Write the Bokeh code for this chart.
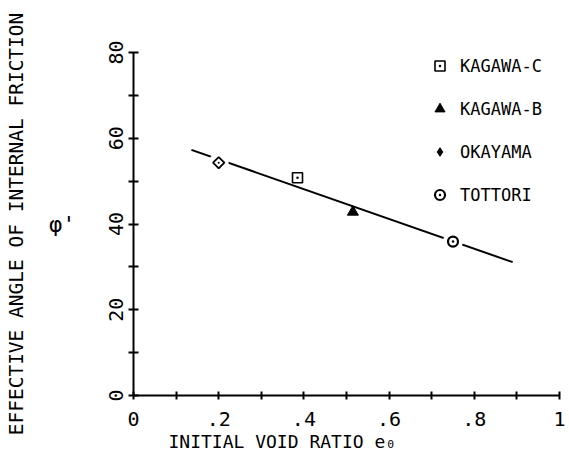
import math
from bokeh.plotting import figure
from bokeh.models import (FixedTicker, Legend, LegendItem, Title, Range1d, LinearAxis)
from bokeh.embed import file_html
from bokeh.resources import INLINE

# ---------------- data ----------------
kagawa_c_x = [0.385]
kagawa_c_y = [50.8]
kagawa_b_x = [0.515]
kagawa_b_y = [42.8]
okayama_x = [0.200]
okayama_y = [54.3]
tottori_x = [0.750]
tottori_y = [35.9]

fit_x = [0.136, 0.890]
fit_y = [57.3, 31.1]

series_names = ["KAGAWA-C", "KAGAWA-B", "OKAYAMA", "TOTTORI"]

x_ticks = [0, 0.1, 0.2, 0.3, 0.4, 0.5, 0.6, 0.7, 0.8, 0.9, 1.0]
x_tick_labels = ["0", "", ".2", "", ".4", "", ".6", "", ".8", "", "1"]
y_ticks = [0, 10, 20, 30, 40, 50, 60, 70, 80]
y_tick_labels = ["0", "", "20", "", "40", "", "60", "", "80"]

x_title = "INITIAL VOID RATIO e\u2080"
y_title = "EFFECTIVE ANGLE OF INTERNAL FRICTION"
y_symbol = "\u03c6'"

FONT = "DejaVu Sans Mono"

# ---------------- figure ----------------
p = figure(width=569, height=464, output_backend="svg", toolbar_location=None,
           x_range=Range1d(0, 1), y_range=Range1d(0, 80),
           min_border_left=133, min_border_right=10,
           min_border_top=52, min_border_bottom=69)
p.outline_line_color = None
p.xgrid.visible = False
p.ygrid.visible = False
p.background_fill_color = "white"
p.border_fill_color = "white"

# x axis
xa = p.xaxis[0]
xa.ticker = FixedTicker(ticks=x_ticks)
xa.major_label_overrides = dict(zip(x_ticks, x_tick_labels))
xa.minor_tick_line_color = None
xa.major_tick_in = 4
xa.major_tick_out = 4
xa.axis_line_width = 2
xa.major_tick_line_width = 2
xa.major_label_standoff = 12
xa.major_label_text_font = FONT
xa.major_label_text_font_size = "20px"
xa.major_label_text_color = "black"

# y axis (ticks and tick labels)
ya = p.yaxis[0]
ya.ticker = FixedTicker(ticks=y_ticks)
ya.major_label_overrides = dict(zip(y_ticks, y_tick_labels))
ya.minor_tick_line_color = None
ya.major_tick_in = 5
ya.major_tick_out = 5
ya.axis_line_width = 2
ya.major_tick_line_width = 2
ya.major_label_orientation = "vertical"
ya.major_label_standoff = 6
ya.major_label_text_font = FONT
ya.major_label_text_font_size = "20px"
ya.major_label_text_color = "black"


def label_only_axis(text, size, standoff, horizontal=False):
    ax = LinearAxis(ticker=FixedTicker(ticks=[]), axis_line_color=None,
                    major_tick_line_color=None, minor_tick_line_color=None,
                    major_tick_out=0, major_tick_in=0, major_label_standoff=0,
                    major_label_text_font_size="0px",
                    axis_label=text, axis_label_text_font=FONT,
                    axis_label_text_font_size=size, axis_label_text_font_style="normal",
                    axis_label_text_color="black", axis_label_standoff=standoff)
    if horizontal:
        try:
            ax.axis_label_orientation = "horizontal"
        except Exception:
            pass
    return ax


# symbol phi' (upright) between tick labels and the long title
p.add_layout(label_only_axis(y_symbol, "22px", 30, horizontal=True), "left")
# long vertical title at the far left
p.add_layout(label_only_axis(y_title, "19.5px", 19), "left")

p.add_layout(Title(text=x_title, align="left", offset=35, text_font=FONT,
                   text_font_size="18px", text_font_style="normal",
                   text_color="black", standoff=0), "below")

# fitted line
p.line(fit_x, fit_y, line_color="black", line_width=2)

# white halos that break the line around the points lying on it
p.scatter(okayama_x, okayama_y, marker="circle", size=20, fill_color="white", line_color=None)
p.scatter(tottori_x, tottori_y, marker="circle", size=20, fill_color="white", line_color=None)

ROT = math.pi / 4

# data points
r_kc = p.scatter(kagawa_c_x, kagawa_c_y, marker="square_dot", size=10,
                 fill_color="white", line_color="black", line_width=1.6)
r_kb = p.scatter(kagawa_b_x, kagawa_b_y, marker="triangle", size=11,
                 fill_color="black", line_color="black", line_width=1)
# filled diamond (used by the legend), covered by the open marker drawn above it
r_ok_leg = p.scatter(okayama_x, okayama_y, marker="diamond", size=11,
                     fill_color="black", line_color=None)
r_ok = p.scatter(okayama_x, okayama_y, marker="square_dot", size=8, angle=ROT,
                 fill_color="white", line_color="black", line_width=1.8)
r_to = p.scatter(tottori_x, tottori_y, marker="circle_dot", size=10,
                 fill_color="white", line_color="black", line_width=2.2)

legend = Legend(items=[
    LegendItem(label=series_names[0], renderers=[r_kc]),
    LegendItem(label=series_names[1], renderers=[r_kb]),
    LegendItem(label=series_names[2], renderers=[r_ok_leg]),
    LegendItem(label=series_names[3], renderers=[r_to]),
], location=(294, 188), orientation="vertical",
    glyph_width=25, glyph_height=25, label_height=25, spacing=18,
    label_standoff=8, padding=0, margin=0,
    border_line_color=None, background_fill_alpha=0,
    label_text_font=FONT, label_text_font_size="17px", label_text_color="black")
p.add_layout(legend)

open("out.html", "w").write(file_html(p, INLINE))
